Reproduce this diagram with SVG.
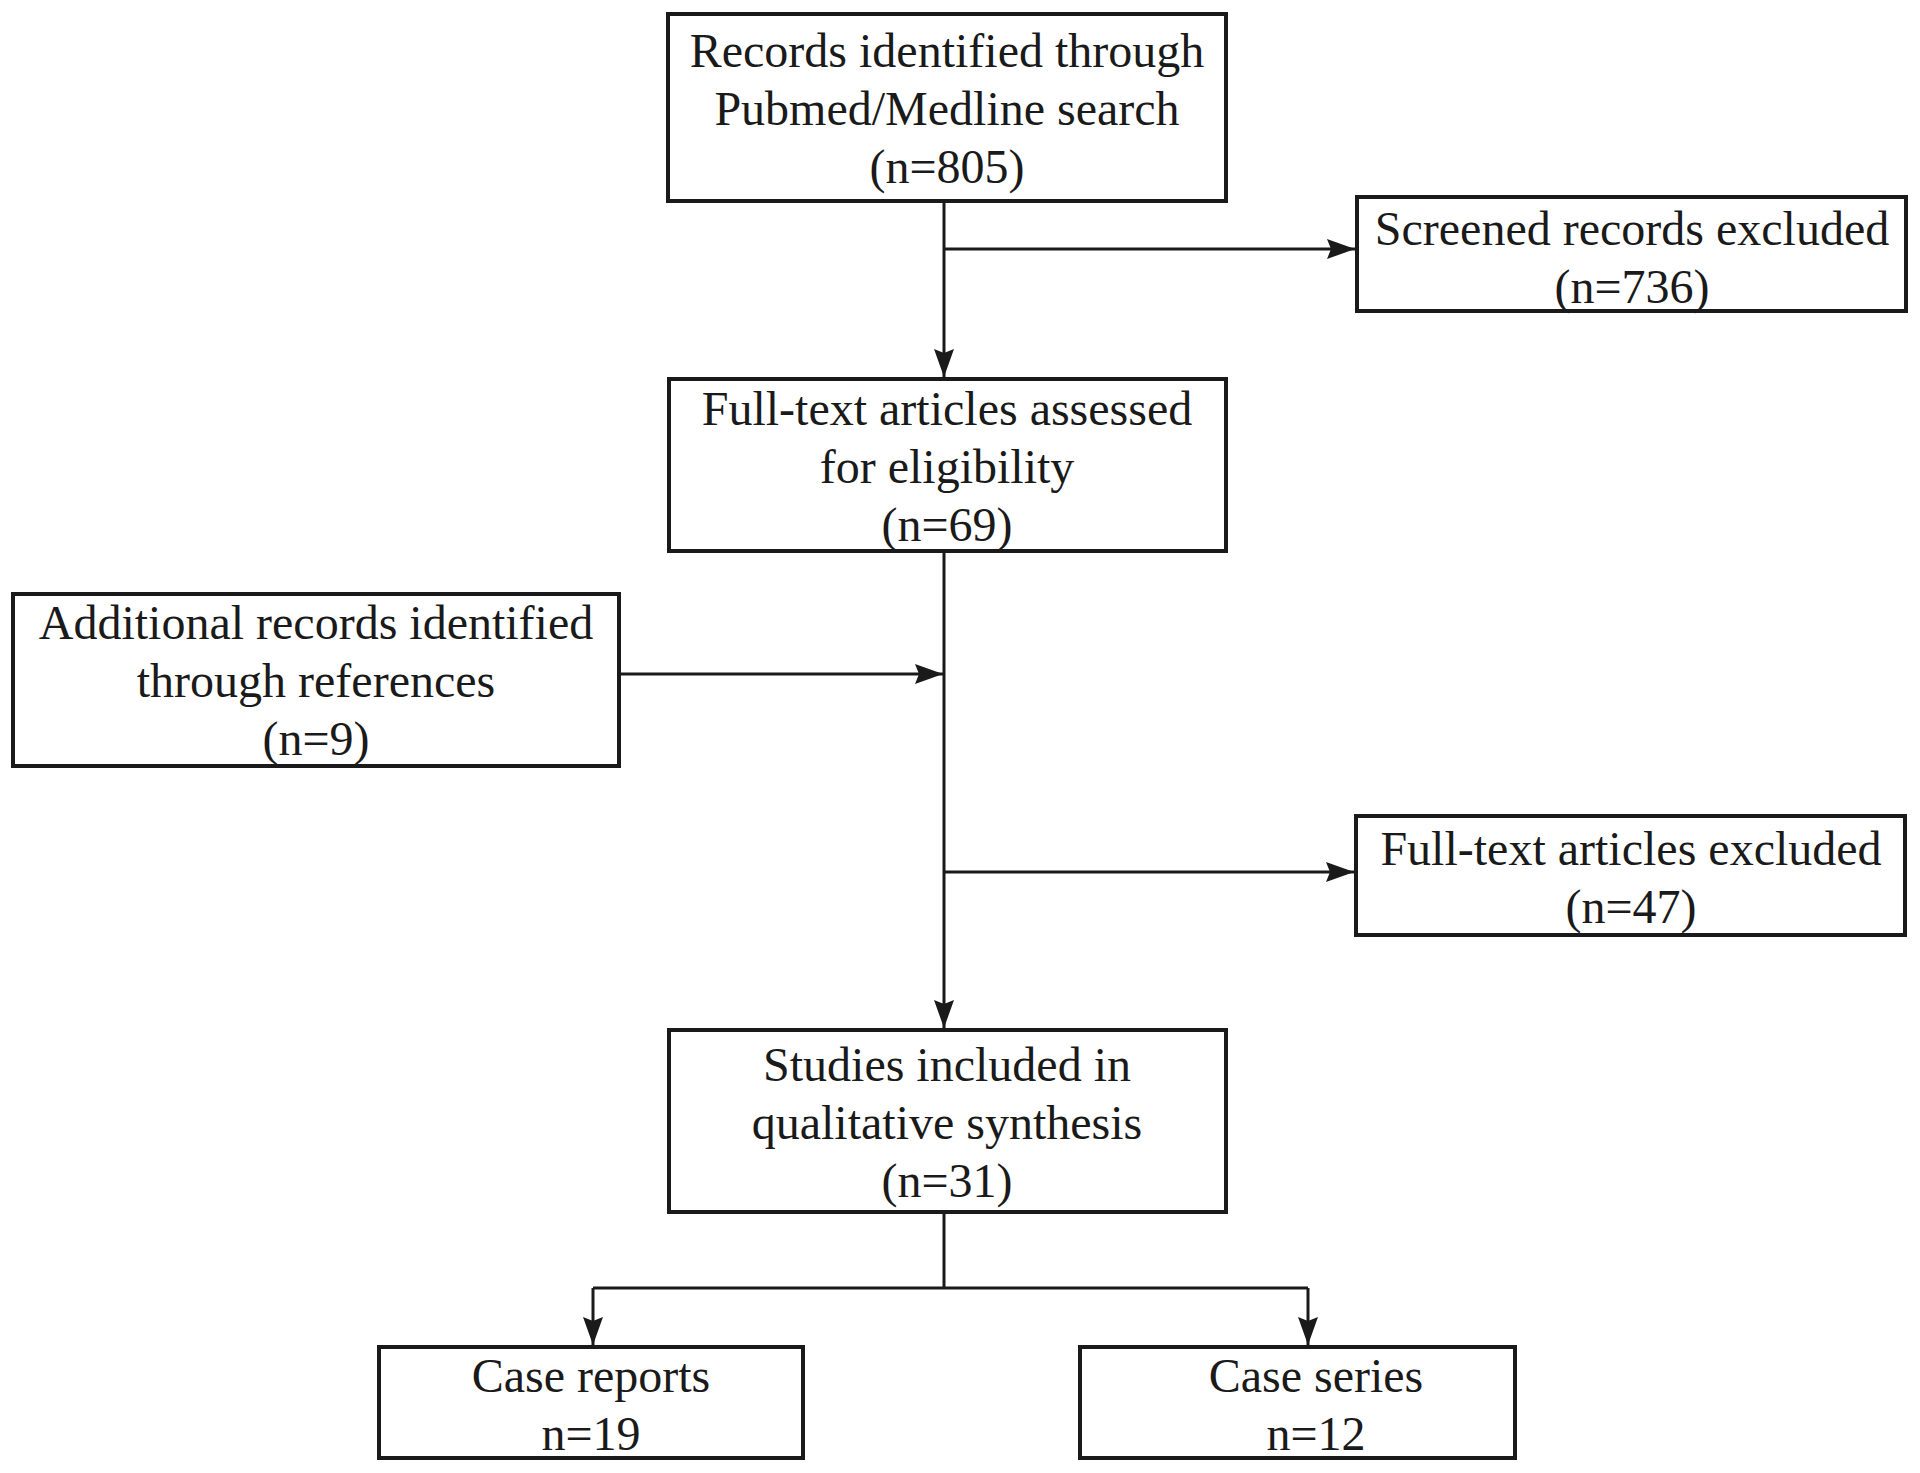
<svg xmlns="http://www.w3.org/2000/svg" width="1920" height="1473" viewBox="0 0 1920 1473">
<defs>
<style>
.box{fill:#fff;stroke:#1a1a1a;stroke-width:4}
.t{font-family:"Liberation Serif","Times New Roman",serif;font-size:48px;fill:#1a1a1a;text-anchor:middle}
.c{fill:none;stroke:#1a1a1a;stroke-width:3}
</style>
<marker id="ah" markerUnits="userSpaceOnUse" markerWidth="28" markerHeight="20" viewBox="0 0 28 20" refX="28" refY="10" orient="auto">
<path d="M0,0 L28,10 L0,20 L4,10 z" fill="#1a1a1a"/>
</marker>
</defs>
<rect width="1920" height="1473" fill="#fff"/>
<g id="connectors">
<path class="c" d="M944,202 V377" marker-end="url(#ah)"/>
<path class="c" d="M944,249 H1355" marker-end="url(#ah)"/>
<path class="c" d="M944,553 V1028" marker-end="url(#ah)"/>
<path class="c" d="M621,674 H943" marker-end="url(#ah)"/>
<path class="c" d="M944,872 H1354" marker-end="url(#ah)"/>
<path class="c" d="M944,1214 V1288"/>
<path class="c" d="M593,1288 H1308"/>
<path class="c" d="M593,1288 V1345" marker-end="url(#ah)"/>
<path class="c" d="M1308,1288 V1345" marker-end="url(#ah)"/>
</g>
<g id="records">
<rect class="box" x="668" y="14" width="558" height="187"/>
<text class="t" x="947" y="67">Records identified through</text>
<text class="t" x="947" y="125">Pubmed/Medline search</text>
<text class="t" x="947" y="183">(n=805)</text>
</g>
<g id="screened">
<rect class="box" x="1357" y="197" width="549" height="114"/>
<text class="t" x="1632" y="245">Screened records excluded</text>
<text class="t" x="1632" y="303">(n=736)</text>
</g>
<g id="fulltext">
<rect class="box" x="669" y="379" width="557" height="172"/>
<text class="t" x="947" y="425">Full-text articles assessed</text>
<text class="t" x="947" y="483">for eligibility</text>
<text class="t" x="947" y="541">(n=69)</text>
</g>
<g id="additional">
<rect class="box" x="13" y="594" width="606" height="172"/>
<text class="t" x="316" y="639">Additional records identified</text>
<text class="t" x="316" y="697">through references</text>
<text class="t" x="316" y="755">(n=9)</text>
</g>
<g id="excluded">
<rect class="box" x="1356" y="816" width="549" height="119"/>
<text class="t" x="1631" y="865">Full-text articles excluded</text>
<text class="t" x="1631" y="923">(n=47)</text>
</g>
<g id="studies">
<rect class="box" x="669" y="1030" width="557" height="182"/>
<text class="t" x="947" y="1081">Studies included in</text>
<text class="t" x="947" y="1139">qualitative synthesis</text>
<text class="t" x="947" y="1197">(n=31)</text>
</g>
<g id="case-reports">
<rect class="box" x="379" y="1347" width="424" height="111"/>
<text class="t" x="591" y="1392">Case reports</text>
<text class="t" x="591" y="1450">n=19</text>
</g>
<g id="case-series">
<rect class="box" x="1080" y="1347" width="435" height="111"/>
<text class="t" x="1316" y="1392">Case series</text>
<text class="t" x="1316" y="1450">n=12</text>
</g>
</svg>
